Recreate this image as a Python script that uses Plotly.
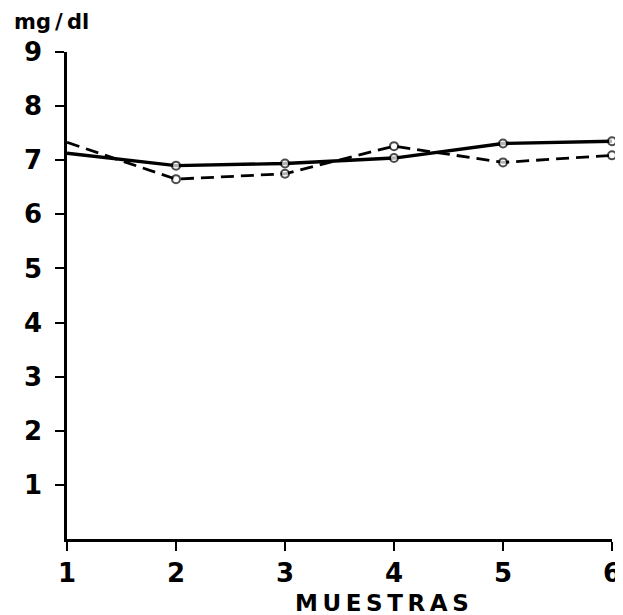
import plotly.graph_objects as go

muestras = [1, 2, 3, 4, 5, 6]
serie_continua = [7.13, 6.90, 6.94, 7.04, 7.31, 7.35]
serie_discontinua = [7.33, 6.65, 6.75, 7.26, 6.96, 7.09]
y_ticks = [1, 2, 3, 4, 5, 6, 7, 8, 9]
x_ticks = [1, 2, 3, 4, 5, 6]

marker_sizes = [0, 8, 8, 8, 8, 8]

fig = go.Figure()
fig.add_trace(go.Scatter(
    x=muestras, y=serie_discontinua, mode="lines+markers",
    line=dict(color="black", width=2.8, dash="13px,7px"),
    marker=dict(symbol="circle", size=marker_sizes, color="white", line=dict(width=2, color="black")),
    showlegend=False, cliponaxis=False,
))
fig.add_trace(go.Scatter(
    x=muestras, y=serie_continua, mode="lines+markers",
    line=dict(color="black", width=3.4),
    marker=dict(symbol="circle", size=marker_sizes, color="white", line=dict(width=2, color="black")),
    showlegend=False, cliponaxis=False,
))

font = dict(family="DejaVu Sans", size=26, color="black", weight="bold")

fig.update_layout(
    width=615, height=607,
    margin=dict(l=59, r=11, t=44, b=76),
    plot_bgcolor="white", paper_bgcolor="white",
    font=font,
    xaxis=dict(
        range=[1, 6], tickvals=x_ticks, ticktext=[str(v) for v in x_ticks],
        showline=True, linecolor="black", linewidth=2.5,
        ticks="outside", ticklen=9, tickwidth=2, tickcolor="black",
        showgrid=False, zeroline=False, automargin=False,
    ),
    yaxis=dict(
        range=[0, 9], tickvals=y_ticks, ticktext=[str(v) for v in y_ticks],
        showline=True, linecolor="black", linewidth=2.5,
        ticks="outside", ticklen=9, tickwidth=2, tickcolor="black",
        showgrid=False, zeroline=False, automargin=False,
        ticklabelstandoff=8,
    ),
    annotations=[
        dict(
            text="mg\u2009/\u2009dl", xref="paper", yref="paper", x=-0.1009, y=1.0616,
            xanchor="left", yanchor="middle", showarrow=False,
            font=dict(family="DejaVu Sans", size=21, color="black", weight="bold"),
        ),
        dict(
            text="M\u2009U\u2009E\u2009S\u2009T\u2009R\u2009A\u2009S", xref="paper", yref="paper",
            x=0.578, y=-0.1324, xanchor="center", yanchor="middle", showarrow=False,
            font=dict(family="DejaVu Sans", size=23, color="black", weight="bold"),
        ),
    ],
)

fig.write_html("out.html")
